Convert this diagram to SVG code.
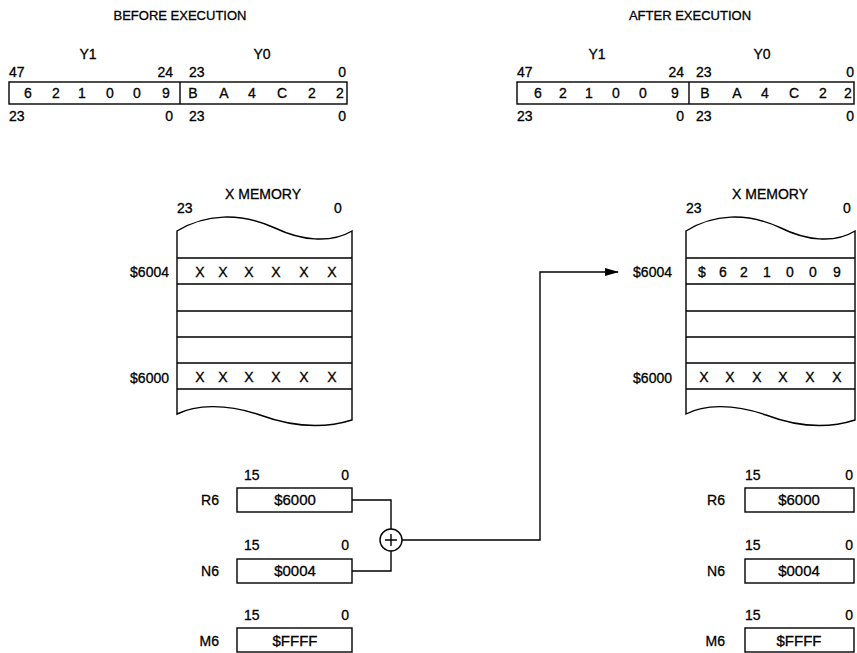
<svg xmlns="http://www.w3.org/2000/svg" width="857" height="653" viewBox="0 0 857 653">
<defs>
<style>
text{font-family:"Liberation Sans",Arial,sans-serif;font-size:14px;fill:#000;stroke:#000;stroke-width:0.3}
.t{font-size:13px}
.d{font-size:15px}
.m{text-anchor:middle}
.e{text-anchor:end}
.b{fill:#fff;stroke:#000;stroke-width:1.4}
.l{fill:none;stroke:#000;stroke-width:1.4}
</style>
<marker id="ah" markerWidth="14" markerHeight="8" refX="13" refY="4" orient="auto" markerUnits="userSpaceOnUse">
<path d="M0,0 L14,4 L0,8 Z" fill="#000"/>
</marker>
</defs>
<rect width="857" height="653" fill="#fff"/>

<g id="title-before"><text class="m t" x="180" y="20">BEFORE EXECUTION</text></g>
<g id="title-after"><text class="m t" x="690" y="20">AFTER EXECUTION</text></g>

<g id="y-before">
<text class="m" x="88" y="59">Y1</text>
<text class="m" x="262" y="59">Y0</text>
<text x="9" y="77">47</text>
<text class="e" x="173" y="77">24</text>
<text x="189" y="77">23</text>
<text class="e" x="346" y="77">0</text>
<rect class="b" x="9" y="82" width="338" height="22"/>
<line class="l" x1="180" y1="82" x2="180" y2="104"/>
<g class="d">
<text class="m" x="28" y="98">6</text><text class="m" x="56" y="98">2</text><text class="m" x="82" y="98">1</text><text class="m" x="110" y="98">0</text><text class="m" x="137" y="98">0</text><text class="m" x="166" y="98">9</text>
<text class="m" x="193" y="98">B</text><text class="m" x="224" y="98">A</text><text class="m" x="252" y="98">4</text><text class="m" x="282" y="98">C</text><text class="m" x="312" y="98">2</text><text class="m" x="340" y="98">2</text>
</g>
<text x="9" y="121">23</text>
<text class="e" x="173" y="121">0</text>
<text x="189" y="121">23</text>
<text class="e" x="346" y="121">0</text>
</g>

<g id="y-after">
<text class="m" x="597" y="59">Y1</text>
<text class="m" x="762" y="59">Y0</text>
<text x="517" y="77">47</text>
<text class="e" x="684" y="77">24</text>
<text x="696" y="77">23</text>
<text class="e" x="854" y="77">0</text>
<rect class="b" x="517" y="82" width="337" height="22"/>
<line class="l" x1="689" y1="82" x2="689" y2="104"/>
<g class="d">
<text class="m" x="538" y="98">6</text><text class="m" x="563" y="98">2</text><text class="m" x="589" y="98">1</text><text class="m" x="616" y="98">0</text><text class="m" x="643" y="98">0</text><text class="m" x="675" y="98">9</text>
<text class="m" x="705" y="98">B</text><text class="m" x="737" y="98">A</text><text class="m" x="765" y="98">4</text><text class="m" x="794" y="98">C</text><text class="m" x="823" y="98">2</text><text class="m" x="848" y="98">2</text>
</g>
<text x="517" y="121">23</text>
<text class="e" x="684" y="121">0</text>
<text x="696" y="121">23</text>
<text class="e" x="854" y="121">0</text>
</g>

<g id="xmem-before">
<text class="m" x="263" y="199">X MEMORY</text>
<text x="177" y="213">23</text>
<text class="m" x="338" y="213">0</text>
<path class="b" d="M177,231 C205,214 240,212 275,228 C300,240 330,244 352,231 L352,420 C320,430 290,426 260,415 C225,403 195,405 177,414 Z"/>
<path class="l" d="M177,258 H352 M177,284 H352 M177,311 H352 M177,337 H352 M177,363 H352 M177,389 H352"/>
<g class="d">
<text class="m" x="200" y="277">X</text><text class="m" x="223" y="277">X</text><text class="m" x="249" y="277">X</text><text class="m" x="276" y="277">X</text><text class="m" x="304" y="277">X</text><text class="m" x="332" y="277">X</text>
<text class="m" x="200" y="382">X</text><text class="m" x="223" y="382">X</text><text class="m" x="249" y="382">X</text><text class="m" x="276" y="382">X</text><text class="m" x="304" y="382">X</text><text class="m" x="332" y="382">X</text>
</g>
<text class="e" x="169" y="277">$6004</text>
<text class="e" x="169" y="383">$6000</text>
</g>

<g id="xmem-after">
<text class="m" x="770" y="199">X MEMORY</text>
<text x="686" y="213">23</text>
<text class="m" x="847" y="213">0</text>
<path class="b" d="M686,231 C713,214 747,212 781,228 C805,240 834,244 855,231 L855,420 C824,430 795,426 766,415 C732,403 703,405 686,414 Z"/>
<path class="l" d="M686,258 H855 M686,284 H855 M686,311 H855 M686,337 H855 M686,363 H855 M686,389 H855"/>
<g class="d">
<text class="m" x="702" y="277">$</text><text class="m" x="723" y="277">6</text><text class="m" x="744" y="277">2</text><text class="m" x="767" y="277">1</text><text class="m" x="790" y="277">0</text><text class="m" x="813" y="277">0</text><text class="m" x="837" y="277">9</text>
<text class="m" x="704" y="382">X</text><text class="m" x="730" y="382">X</text><text class="m" x="757" y="382">X</text><text class="m" x="783" y="382">X</text><text class="m" x="810" y="382">X</text><text class="m" x="837" y="382">X</text>
</g>
<text class="e" x="672" y="277">$6004</text>
<text class="e" x="672" y="383">$6000</text>
</g>

<g id="r6-before">
<text x="244" y="480">15</text><text class="e" x="349" y="480">0</text>
<text class="e" x="219" y="505">R6</text>
<rect class="b" x="237" y="488" width="115" height="24"/>
<text class="m d" x="295" y="505">$6000</text>
</g>
<g id="n6-before">
<text x="244" y="550">15</text><text class="e" x="349" y="550">0</text>
<text class="e" x="219" y="576">N6</text>
<rect class="b" x="237" y="559" width="115" height="24"/>
<text class="m d" x="295" y="576">$0004</text>
</g>
<g id="m6-before">
<text x="244" y="620">15</text><text class="e" x="349" y="620">0</text>
<text class="e" x="219" y="646">M6</text>
<rect class="b" x="237" y="628" width="115" height="24"/>
<text class="m d" x="295" y="646">$FFFF</text>
</g>

<g id="adder">
<circle class="b" cx="391" cy="540" r="11"/>
<path class="l" d="M385,540 H397 M391,534 V546"/>
</g>

<g id="r6-after">
<text x="745" y="480">15</text><text class="e" x="853" y="480">0</text>
<text class="e" x="725" y="505">R6</text>
<rect class="b" x="745" y="488" width="109" height="24"/>
<text class="m d" x="799" y="505">$6000</text>
</g>
<g id="n6-after">
<text x="745" y="550">15</text><text class="e" x="853" y="550">0</text>
<text class="e" x="725" y="576">N6</text>
<rect class="b" x="745" y="559" width="109" height="24"/>
<text class="m d" x="799" y="576">$0004</text>
</g>
<g id="m6-after">
<text x="745" y="620">15</text><text class="e" x="853" y="620">0</text>
<text class="e" x="725" y="646">M6</text>
<rect class="b" x="745" y="628" width="109" height="24"/>
<text class="m d" x="799" y="646">$FFFF</text>
</g>

<g id="connectors">
<path class="l" d="M352,500 H391 V529"/>
<path class="l" d="M352,571 H391 V551"/>
<path class="l" d="M402,540 H540 V272 H618" marker-end="url(#ah)"/>
</g>
</svg>
